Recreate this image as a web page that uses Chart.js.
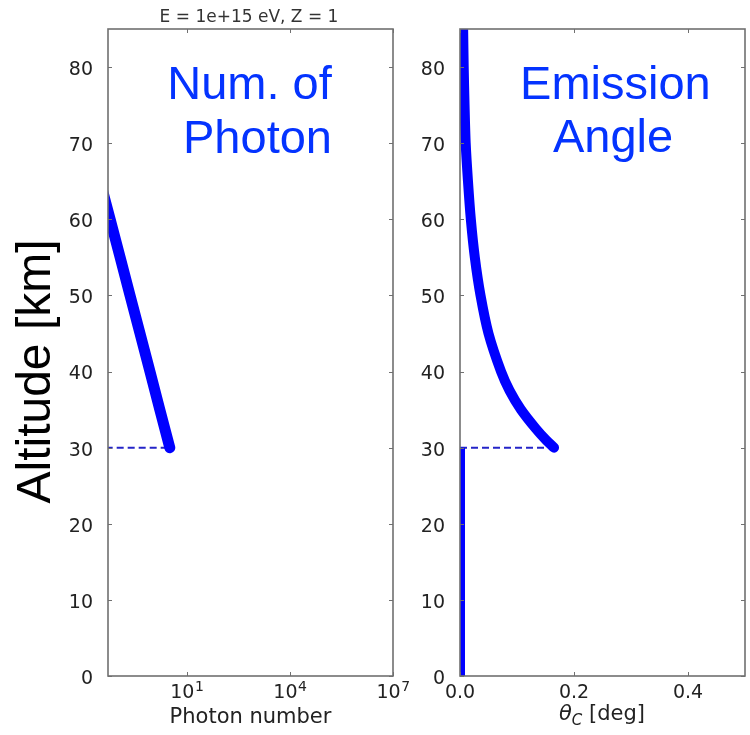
<!DOCTYPE html>
<html>
<head>
<meta charset="utf-8">
<script src="https://cdn.jsdelivr.net/npm/chart.js@4.4.1/dist/chart.umd.min.js"></script>
<style>
  html, body { margin: 0; padding: 0; background: #fff; }
  #wrap { position: relative; width: 750px; height: 735px; overflow: hidden; }
  #photonChart { position: absolute; left: 0; top: 0; }
  #angleChart { position: absolute; left: 420px; top: 0; }
</style>
</head>
<body>
<div id="wrap">
  <canvas id="photonChart" width="420" height="735"></canvas>
  <canvas id="angleChart" width="330" height="735"></canvas>
</div>
<script>
// tick values
const altTicks = [0, 10, 20, 30, 40, 50, 60, 70, 80];
const photonTicks = [1e1, 1e4, 1e7];
const photonTickExp = ["1", "4", "7"];
const angleTicks = [0, 0.2, 0.4];
const angleTickLabels = ["0.0", "0.2", "0.4"];

// photon number vs altitude [km]
const photonAlt = [30, 35, 40, 45, 50, 55, 60, 65, 70];
const photonNum = [3.2, 1.64, 0.85, 0.435, 0.223, 0.115, 0.059, 0.030, 0.0156];

// cherenkov angle [deg] vs altitude [km]
const angleAlt = [30, 31, 32.5, 35, 37.5, 40, 45, 50, 55, 60, 65, 70, 75, 80, 85, 88];
const angleDeg = [0.165, 0.151, 0.133, 0.107, 0.087, 0.072, 0.050, 0.036, 0.026, 0.019, 0.014, 0.010, 0.008, 0.0065, 0.0055, 0.005];

// below the cut nothing is emitted
const lowAlt = [0, 30];
const lowDeg = [0, 0];

// dashed marker of the 30 km cut
const dashAlt = [30, 30];
const dashPhoton = [0.01, 3.2];
const dashAngle = [0, 0.165];

const BLUE = "#0000ff";
const DASH_BLUE = "#2424c8";
const TEXT_BLUE = "#0433ff";
const TICK_FONT = "19px 'DejaVu Sans'";

Chart.defaults.font.family = "'DejaVu Sans', sans-serif";
Chart.defaults.color = "#222";

const pts = (xs, ys) => xs.map((x, i) => ({ x, y: ys[i] }));

// matplotlib-like box with inward ticks on all four sides
const framePlugin = {
    id: "frame",
    afterDatasetsDraw(chart) {
        const { ctx, chartArea: a, scales } = chart;
        ctx.save();
        ctx.strokeStyle = "#707070";
        ctx.lineWidth = 1;
        ctx.beginPath();
        scales.x.ticks.forEach(t => {
            const px = Math.round(scales.x.getPixelForValue(t.value)) + 0.5;
            ctx.moveTo(px, a.bottom); ctx.lineTo(px, a.bottom - 4);
            ctx.moveTo(px, a.top); ctx.lineTo(px, a.top + 4);
        });
        scales.y.ticks.forEach(t => {
            const py = Math.round(scales.y.getPixelForValue(t.value)) + 0.5;
            ctx.moveTo(a.left, py); ctx.lineTo(a.left + 4, py);
            ctx.moveTo(a.right, py); ctx.lineTo(a.right - 4, py);
        });
        ctx.stroke();
        ctx.lineWidth = 1.6;
        ctx.strokeRect(a.left, a.top, a.right - a.left, a.bottom - a.top);
        ctx.restore();
    },
};

function textPlugin(id, draw) {
    return {
        id,
        afterDraw(chart) {
            const c = chart.ctx;
            c.save();
            draw(c, chart);
            c.restore();
        },
    };
}

function centered(c, text, x, y) {
    c.textAlign = "center";
    c.textBaseline = "alphabetic";
    c.fillText(text, x, y);
}

// the empty first line nudges each label ~3px below its tick, like the original
const yAxis = (width) => ({
    type: "linear",
    min: 0,
    max: 85,
    afterBuildTicks: (s) => { s.ticks = altTicks.map(v => ({ value: v })); },
    afterFit: (s) => { s.width = width; },
    grid: { display: false },
    border: { display: false },
    ticks: {
        font: { size: 19, lineHeight: "6px" }, color: "#222", padding: 7,
        callback: (v) => ["", String(v)],
    },
});

const X_LABEL_BASE = 698;

new Chart(document.getElementById("photonChart"), {
    type: "scatter",
    data: {
        datasets: [
            {
                data: pts(photonNum, photonAlt),
                showLine: true, borderColor: BLUE, borderWidth: 11,
                borderCapStyle: "round", borderJoinStyle: "round",
                pointRadius: 0, clip: 0,
            },
            {
                data: pts(dashPhoton, dashAlt),
                showLine: true, borderColor: DASH_BLUE, borderWidth: 2,
                borderDash: [7, 4], pointRadius: 0, clip: 0,
            },
        ],
    },
    options: {
        responsive: false, animation: false,
        layout: { padding: { top: 29, right: 27, bottom: 0, left: 0 } },
        plugins: { legend: { display: false }, tooltip: { enabled: false } },
        scales: {
            x: {
                type: "logarithmic",
                min: 0.051,
                max: 1e7,
                afterBuildTicks: (s) => { s.ticks = photonTicks.map(v => ({ value: v })); },
                afterFit: (s) => { s.height = 59; },
                grid: { display: false },
                border: { display: false },
                ticks: { display: false },
                title: {
                    display: true, text: "Photon number", color: "#222",
                    font: { size: 21 }, padding: { top: 0, bottom: 5 },
                },
            },
            y: yAxis(108),
        },
    },
    plugins: [framePlugin, textPlugin("photonText", (c, chart) => {
        // 10^n tick labels with raised exponent
        const xs = chart.scales.x;
        c.fillStyle = "#222";
        c.textBaseline = "alphabetic";
        c.textAlign = "left";
        photonTicks.forEach((v, i) => {
            const px = xs.getPixelForValue(v);
            c.font = TICK_FONT; const wb = c.measureText("10").width;
            c.font = "14px 'DejaVu Sans'"; const we = c.measureText(photonTickExp[i]).width;
            const x0 = px - (wb + we) / 2;
            c.font = TICK_FONT; c.fillText("10", x0, X_LABEL_BASE);
            c.font = "14px 'DejaVu Sans'"; c.fillText(photonTickExp[i], x0 + wb + 0.5, X_LABEL_BASE - 7.5);
        });

        c.fillStyle = "#333";
        c.font = "17px 'DejaVu Sans'";
        centered(c, "E = 1e+15 eV, Z = 1", 249, 22);

        c.fillStyle = TEXT_BLUE;
        c.font = "47px 'Liberation Sans'";
        centered(c, "Num. of", 249.5, 99);
        centered(c, "Photon", 257.5, 153);

        c.fillStyle = "#000";
        c.font = "48px 'Liberation Sans'";
        c.translate(50, 371.5);
        c.rotate(-Math.PI / 2);
        centered(c, "Altitude [km]", 0, 0);
    })],
});

new Chart(document.getElementById("angleChart"), {
    type: "scatter",
    data: {
        datasets: [
            {
                data: pts(angleDeg, angleAlt),
                showLine: true, borderColor: BLUE, borderWidth: 10,
                borderCapStyle: "round", borderJoinStyle: "round",
                pointRadius: 0, tension: 0.3, clip: 0,
            },
            {
                data: pts(lowDeg, lowAlt),
                showLine: true, borderColor: BLUE, borderWidth: 10,
                pointRadius: 0, clip: 0,
            },
            {
                data: pts(dashAngle, dashAlt),
                showLine: true, borderColor: DASH_BLUE, borderWidth: 2,
                borderDash: [7, 4], pointRadius: 0, clip: 0,
            },
        ],
    },
    options: {
        responsive: false, animation: false,
        layout: { padding: { top: 29, right: 5, bottom: 0, left: 0 } },
        plugins: { legend: { display: false }, tooltip: { enabled: false } },
        scales: {
            x: {
                type: "linear",
                min: 0,
                max: 0.5,
                afterBuildTicks: (s) => { s.ticks = angleTicks.map(v => ({ value: v })); },
                afterFit: (s) => { s.height = 59; },
                grid: { display: false },
                border: { display: false },
                ticks: { display: false },
            },
            y: yAxis(40),
        },
    },
    plugins: [framePlugin, textPlugin("angleText", (c, chart) => {
        const xs = chart.scales.x;
        c.fillStyle = "#222";
        c.font = TICK_FONT;
        angleTicks.forEach((v, i) => centered(c, angleTickLabels[i], xs.getPixelForValue(v), X_LABEL_BASE));

        c.fillStyle = TEXT_BLUE;
        c.font = "47px 'Liberation Sans'";
        centered(c, "Emission", 195.4, 99);
        centered(c, "Angle", 193, 152);

        // θ_C [deg] axis label
        c.fillStyle = "#222";
        c.textAlign = "left";
        c.textBaseline = "alphabetic";
        const big = "21px 'DejaVu Sans'";
        const ital = "oblique 21px 'DejaVu Sans'";
        const sub = "oblique 15px 'DejaVu Sans'";
        c.font = ital; const w1 = c.measureText("θ").width;
        c.font = sub; const w2 = c.measureText("C").width;
        c.font = big; const w3 = c.measureText(" [deg]").width;
        let x = 182 - (w1 + w2 + w3) / 2;
        const base = 720;
        c.font = ital; c.fillText("θ", x, base); x += w1;
        c.font = sub; c.fillText("C", x, base + 5); x += w2;
        c.font = big; c.fillText(" [deg]", x, base);
    })],
});
</script>
</body>
</html>
